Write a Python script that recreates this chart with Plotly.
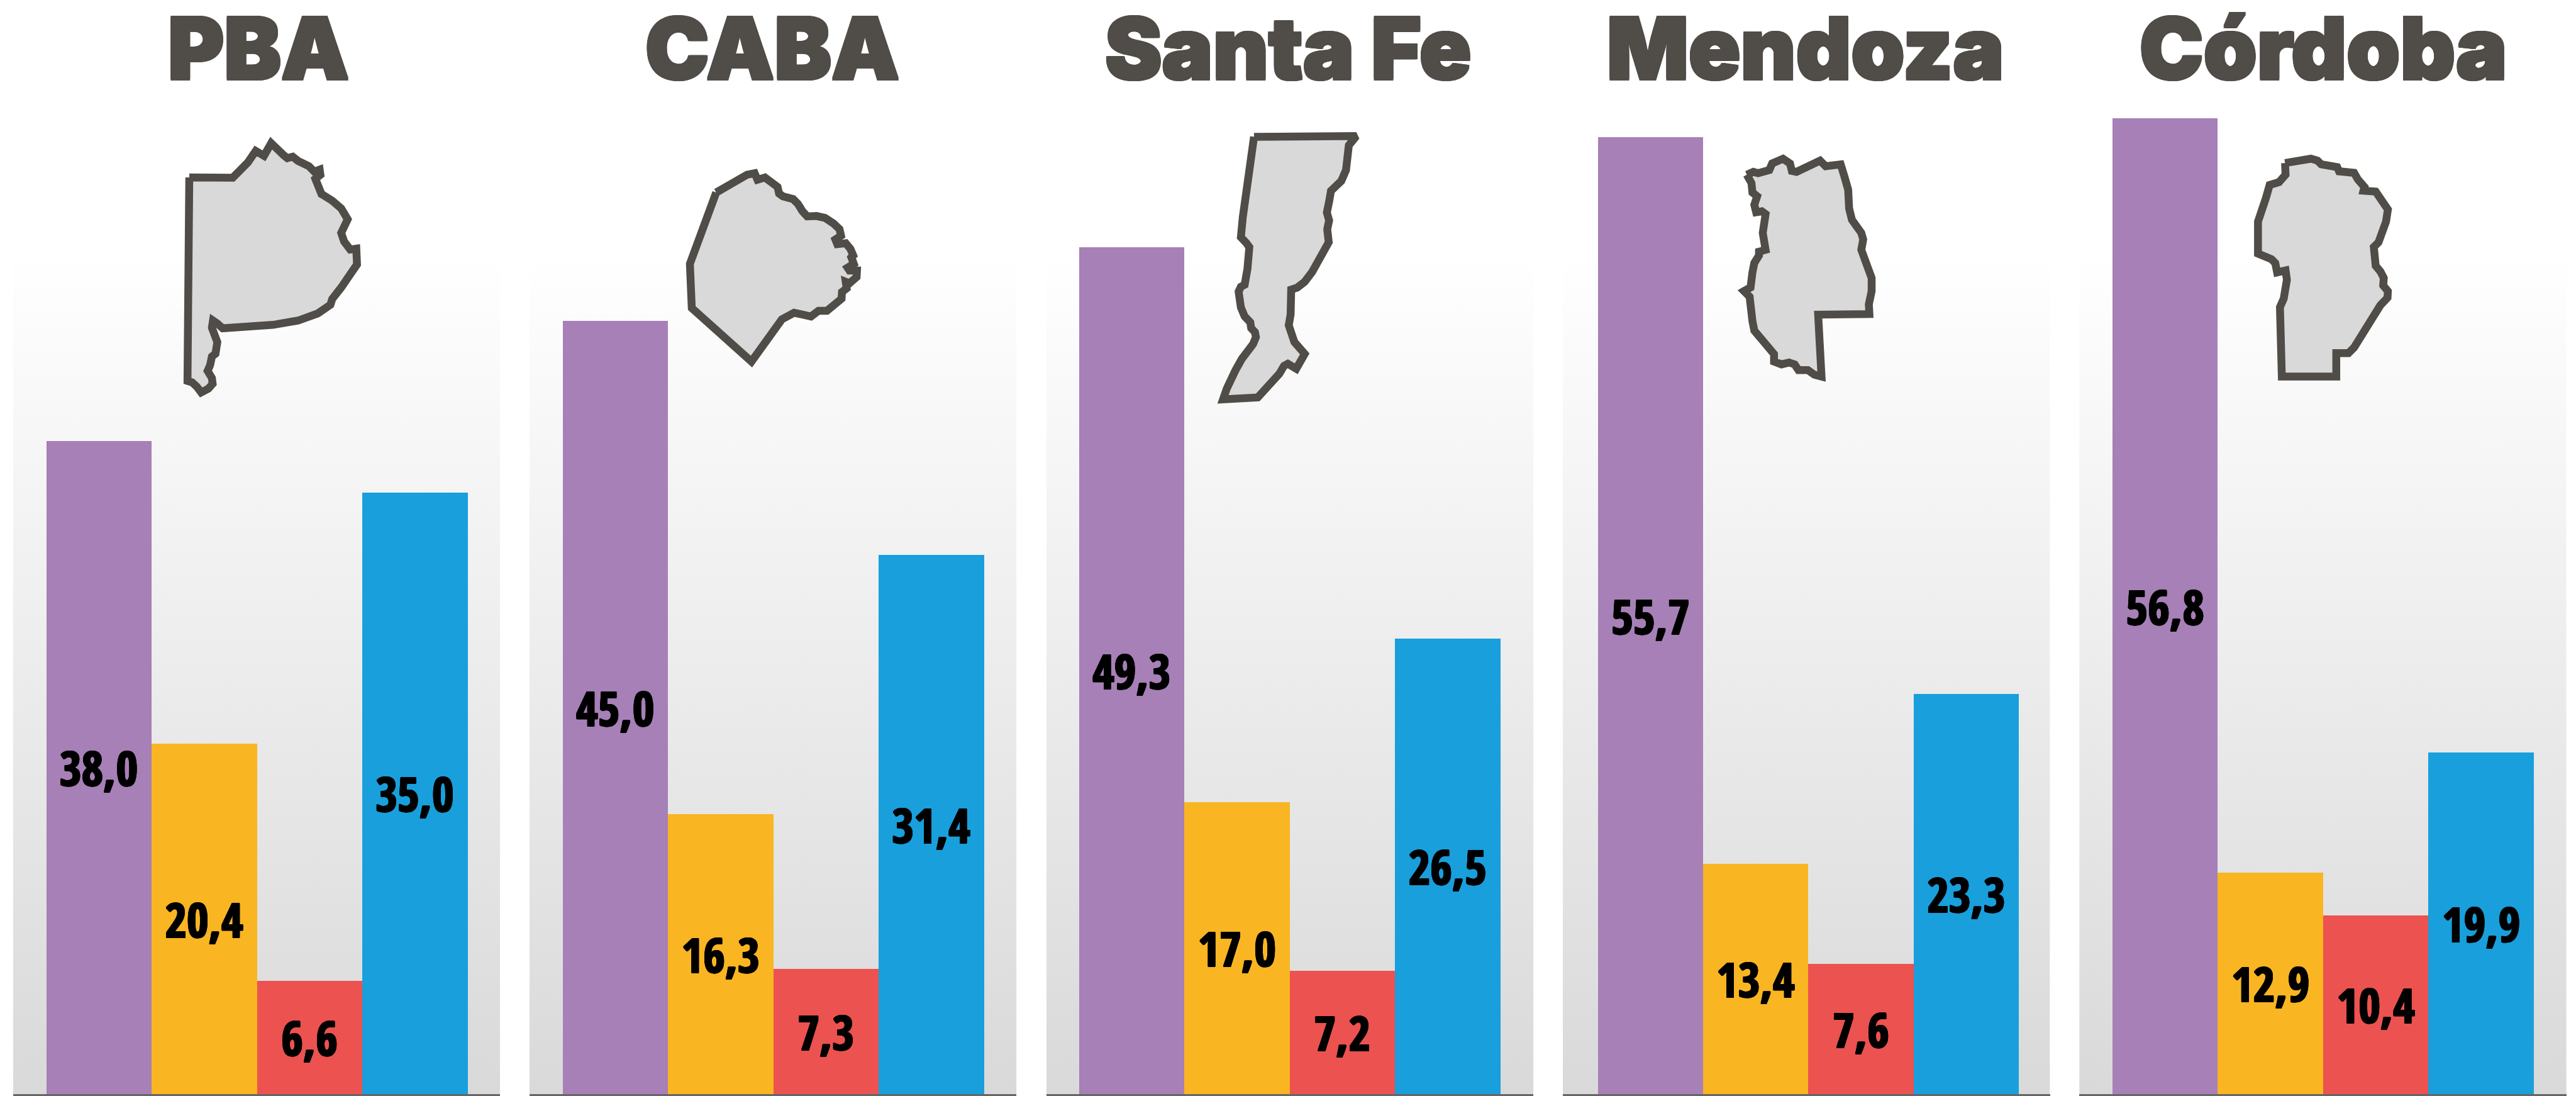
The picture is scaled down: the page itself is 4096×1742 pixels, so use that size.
import base64
import plotly.graph_objects as go

# ---- data ----
regions = ["PBA", "CABA", "Santa Fe", "Mendoza", "Córdoba"]
categories = ["Violeta", "Amarillo", "Rojo", "Azul"]
violeta = [38.0, 45.0, 49.3, 55.7, 56.8]
amarillo = [20.4, 16.3, 17.0, 13.4, 12.9]
rojo = [6.6, 7.3, 7.2, 7.6, 10.4]
azul = [35.0, 31.4, 26.5, 23.3, 19.9]

# silhouettes of the provinces, traced in crop coordinates
pba_outline = [(527,617),(648,618),(690,565),(712,525),(735,542),(745,525),(755,498),(790,540),(800,550),(815,545),(830,560),(860,578),(875,597),(890,590),(892,608),(878,622),(885,650),(895,675),(925,698),(950,725),(968,763),(955,790),(950,810),(958,840),(975,868),(992,865),(994,920),(980,945),(965,975),(950,1000),(925,1040),(920,1060),(885,1090),(830,1115),(760,1130),(680,1140),(620,1142),(605,1125),(593,1115),(590,1140),(595,1165),(605,1190),(600,1230),(590,1240),(585,1270),(578,1290),(590,1315),(592,1335),(580,1352),(560,1365),(548,1345),(535,1330),(522,1325),(527,617)]
caba_outline = [(515,425),(680,330),(720,322),(735,357),(775,345),(842,395),(850,430),(870,445),(925,460),(950,485),(975,525),(1000,552),(1050,550),(1095,560),(1140,590),(1172,620),(1180,655),(1150,675),(1160,700),(1205,695),(1230,725),(1245,760),(1235,770),(1248,805),(1215,825),(1225,840),(1265,840),(1263,875),(1225,908),(1205,900),(1210,935),(1185,955),(1183,990),(1105,1055),(1060,1055),(1020,1085),(930,1065),(865,1100),(703,1325),(385,1040),(375,805),(515,425)]
santafe_outline = [(380,122),(925,118),(885,165),(880,240),(870,290),(845,345),(815,370),(790,395),(780,450),(768,505),(780,545),(770,590),(778,655),(740,725),(690,805),(650,855),(610,885),(578,895),(578,960),(575,1020),(565,1075),(575,1115),(595,1160),(650,1220),(625,1265),(620,1285),(605,1295),(560,1270),(540,1280),(515,1320),(470,1370),(400,1440),(215,1450),(235,1395),(280,1305),(315,1245),(375,1170),(390,1135),(385,1110),(365,1090),(360,1060),(330,1030),(310,985),(305,965),(298,905),(310,880),(330,870),(345,790),(360,710),(355,680),(340,660),(310,630),(320,530),(380,122)]
mendoza_outline = [(305,240),(340,225),(365,232),(425,215),(440,180),(475,170),(498,155),(535,180),(545,220),(570,225),(605,210),(635,190),(695,165),(725,195),(805,185),(825,250),(845,320),(850,420),(865,480),(915,550),(925,585),(915,640),(945,710),(970,790),(970,860),(955,930),(958,982),(685,985),(703,1315),(665,1305),(630,1280),(580,1280),(560,1250),(530,1240),(490,1250),(450,1235),(450,1195),(420,1160),(395,1130),(370,1115),(345,1070),(335,1020),(330,985),(335,965),(320,890),(290,860),(325,840),(335,760),(345,710),(370,670),(370,650),(405,640),(390,550),(405,450),(385,435),(355,440),(345,400),(360,355),(335,335),(330,285),(305,240)]
cordoba_outline = [(322,178),(460,155),(495,165),(515,185),(600,200),(610,222),(690,230),(710,265),(745,305),(740,325),(805,330),(870,425),(860,490),(835,560),(820,600),(795,625),(800,665),(810,690),(805,725),(830,755),(848,790),(845,830),(870,860),(868,895),(830,935),(690,1160),(660,1190),(595,1190),(595,1315),(305,1315),(305,1095),(295,945),(315,900),(332,800),(325,750),(280,760),(270,710),(250,690),(178,660),(178,490),(220,365),(240,295),(290,280),(325,240),(322,178)]

# ---- layout constants, in reference pixels ----
REF_W, REF_H = 4574, 1945
W, H = 4096, 1742
BAR_W = 187
BASE_Y = 1942
PX_PER_UNIT = 30.5
panel_left = [23, 940, 1858, 2775, 3692]
panel_pad = [59, 59, 58, 62, 59]
PANEL_W = 865
title_x = [459, 1371, 2287, 3206, 4125]
colors = ["#a680b6", "#f9b522", "#ec524f", "#189fdc"]
DARK = "#504c48"
outlines = [
    (pba_outline, 0, 0, 1.568, 1.96),
    (caba_outline, 1100, 200, 3, 3),
    (santafe_outline, 2100, 200, 3, 2.85),
    (mendoza_outline, 3000, 230, 3, 3),
    (cordoba_outline, 3950, 230, 3, 3),
]


def ring(px, color):
    return ", ".join(f"{a}px {b}px 0 {color}" for a, b in
                     [(px, 0), (-px, 0), (0, px), (0, -px), (px, px), (-px, -px), (px, -px), (-px, px)])


svg = (
    f'<svg xmlns="http://www.w3.org/2000/svg" width="{PANEL_W}" height="{BASE_Y}" preserveAspectRatio="none">'
    '<defs><linearGradient id="g" x1="0" y1="0" x2="0" y2="1">'
    f'<stop offset="{450/BASE_Y:.4f}" stop-color="#ffffff"/><stop offset="1" stop-color="#d9d9d9"/>'
    '</linearGradient></defs>'
    f'<rect width="{PANEL_W}" height="{BASE_Y}" fill="url(#g)"/></svg>'
)
gradient = "data:image/svg+xml;base64," + base64.b64encode(svg.encode()).decode()

fig = go.Figure()
layout = dict(
    width=W, height=H, autosize=False,
    margin=dict(l=0, r=0, t=0, b=0, pad=0),
    paper_bgcolor="white", plot_bgcolor="rgba(0,0,0,0)",
    showlegend=False, hovermode=False, bargap=0,
    images=[], annotations=[],
)

for i, region in enumerate(regions):
    suffix = "" if i == 0 else str(i + 1)
    vals = [violeta[i], amarillo[i], rojo[i], azul[i]]
    fig.add_trace(go.Bar(
        x=categories, y=vals, width=1,
        marker=dict(color=colors, line=dict(width=0)),
        text=[f"{v:.1f}".replace(".", ",") for v in vals],
        textposition="inside", insidetextanchor="middle", textangle=0,
        constraintext="none",
        textfont=dict(family="Open Sans Condensed", size=75, color="black", weight=700,
                      shadow=ring(1, "black")),
        xaxis=f"x{suffix}", yaxis=f"y{suffix}", name=region,
    ))
    x0 = panel_left[i] / REF_W
    x1 = (panel_left[i] + PANEL_W) / REF_W
    y0 = 1 - BASE_Y / REF_H
    pad_l = panel_pad[i] / BAR_W
    pad_r = (PANEL_W - panel_pad[i] - 4 * BAR_W) / BAR_W
    layout[f"xaxis{suffix}"] = dict(
        domain=[x0, x1], range=[-0.5 - pad_l, 3.5 + pad_r], type="category",
        categoryorder="array", categoryarray=categories,
        showticklabels=False, ticks="", showgrid=False, zeroline=False,
        showline=True, linecolor="#666666", linewidth=3, anchor=f"y{suffix}",
    )
    layout[f"yaxis{suffix}"] = dict(
        domain=[y0, 1], range=[0, BASE_Y / PX_PER_UNIT],
        visible=False, showgrid=False, zeroline=False, anchor=f"x{suffix}",
    )
    layout["images"].append(dict(
        source=gradient, xref="paper", yref="paper", x=x0, y=1, sizex=x1 - x0, sizey=1 - y0,
        xanchor="left", yanchor="top", sizing="stretch", layer="below",
    ))
    layout["annotations"].append(dict(
        text=region, xref="paper", yref="paper",
        x=title_x[i] / REF_W, y=1 - 85 / REF_H, xanchor="center", yanchor="middle",
        showarrow=False,
        font=dict(family="Inter", size=136, color=DARK, weight=900, shadow=ring(2, DARK)),
    ))

# overlay axes in reference pixels for the silhouettes
for pts, ox, oy, sx, sy in outlines:
    fig.add_trace(go.Scatter(
        x=[ox + p[0] / sx for p in pts], y=[oy + p[1] / sy for p in pts],
        mode="lines", fill="toself", fillcolor="#d9d9d9",
        line=dict(color=DARK, width=12.5), xaxis="x6", yaxis="y6",
    ))
layout["xaxis6"] = dict(domain=[0, 1], range=[0, REF_W], visible=False, anchor="y6")
layout["yaxis6"] = dict(domain=[0, 1], range=[REF_H, 0], visible=False, anchor="x6")

fig.update_layout(**layout)
fig.write_html("out.html", include_plotlyjs=True, config=dict(displayModeBar=False),
               post_script="document.body.style.margin='0';document.body.style.overflow='hidden';")
